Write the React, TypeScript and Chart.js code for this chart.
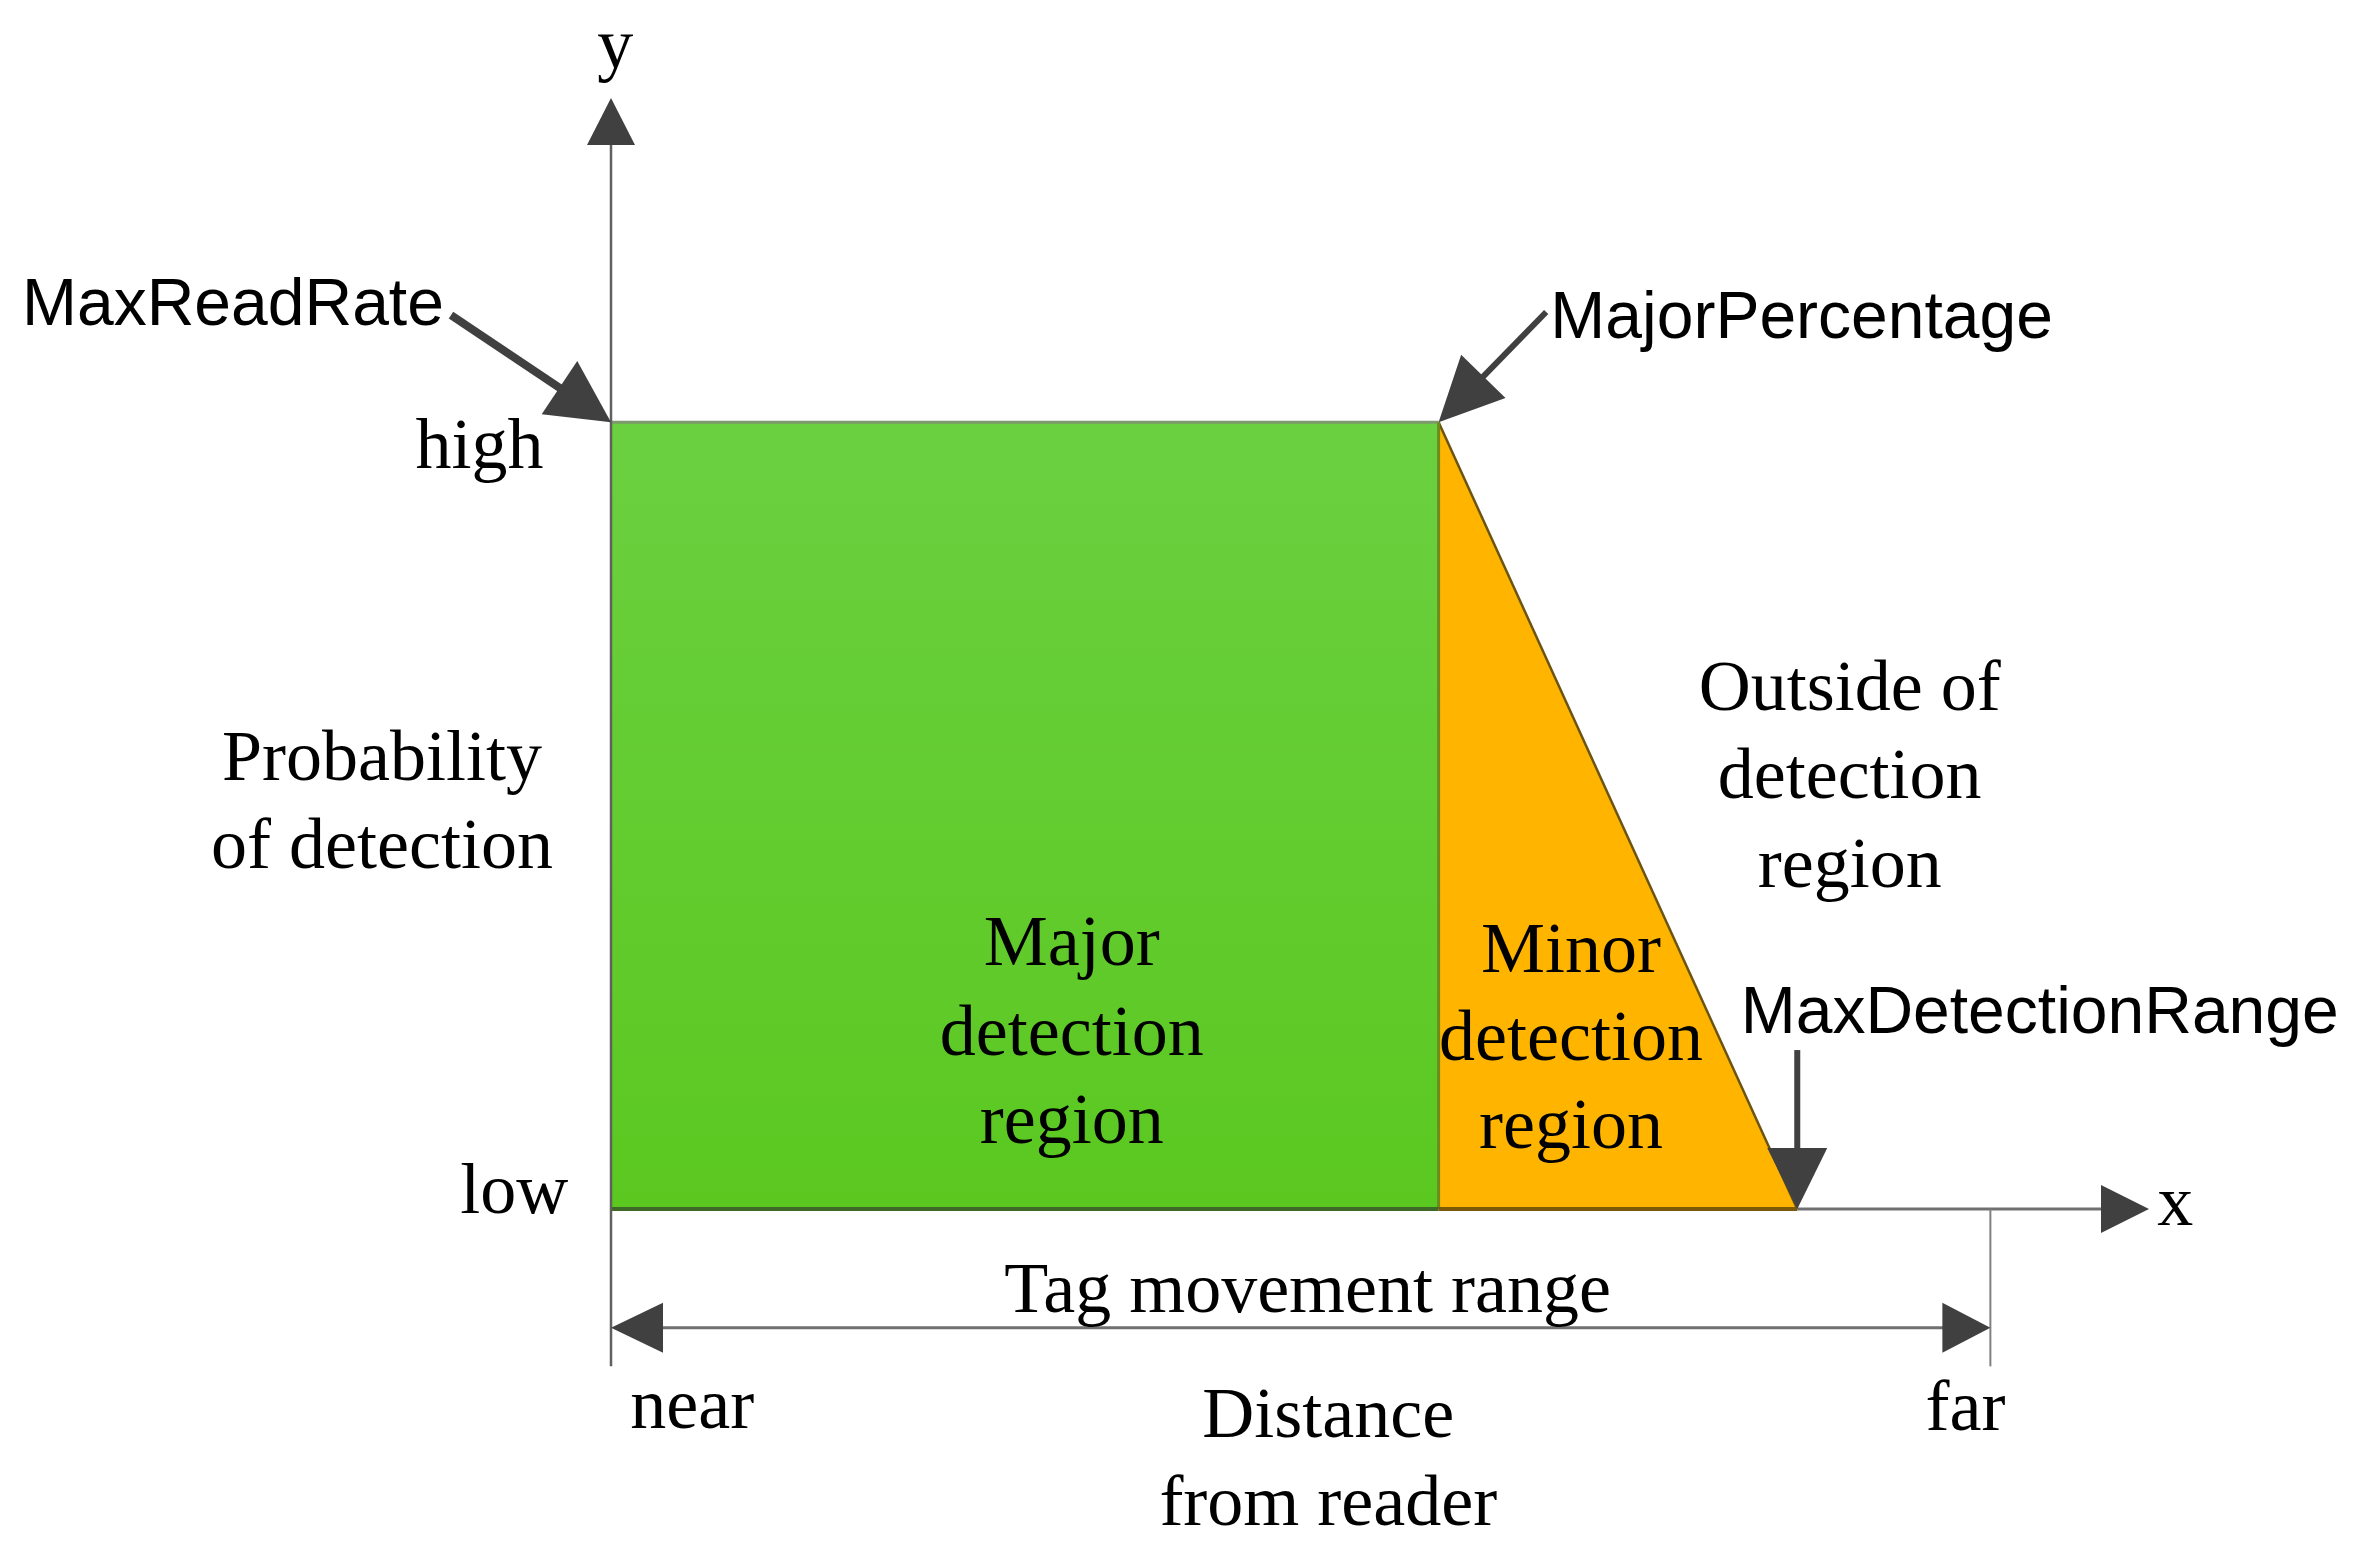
import React, { useEffect, useRef } from "react";
import { Chart, registerables } from "chart.js";

Chart.register(...registerables);

// ---- data (x: distance from reader, 0 = near, 1 = far; y: probability, 0 = low, 1 = high)
const majorX = [0, 0.6];
const majorY = [1, 1];
const minorX = [0.6, 0.86];
const minorY = [1, 0];
const yTickLabels = ["low", "high"];
const yTickValues = [0, 1];
const xTickLabels = ["near", "far"];
const xTickValues = [0, 1];
const majorLines = ["Major", "detection", "region"];
const minorLines = ["Minor", "detection", "region"];
const outsideLines = ["Outside of", "detection", "region"];
const yTitleLines = ["Probability", "of detection"];
const xTitleLines = ["Distance", "from reader"];
const rangeLabel = "Tag movement range";
const calloutLabels = ["MaxReadRate", "MajorPercentage", "MaxDetectionRange"];

const X_MAX = 1.115;
const Y_MAX = 1.412;
const EXT = -0.2; // tick extension below x axis

const SERIF = '72px "Liberation Serif", "Times New Roman", serif';
const SANS = '66px "Liberation Sans", Arial, sans-serif';
const ARROW = "#404040";
const AXIS = "#707070";

function arrow(ctx: CanvasRenderingContext2D, x1: number, y1: number, x2: number, y2: number, shaftW: number, headL: number, headHW: number, color: string, shaft = true) {
  const dx = x2 - x1, dy = y2 - y1;
  const len = Math.hypot(dx, dy);
  const ux = dx / len, uy = dy / len;
  const bx = x2 - ux * headL, by = y2 - uy * headL;
  ctx.save();
  if (shaft) {
    ctx.strokeStyle = color;
    ctx.lineWidth = shaftW;
    ctx.lineCap = "butt";
    ctx.beginPath();
    ctx.moveTo(x1, y1);
    ctx.lineTo(bx + ux * 2, by + uy * 2);
    ctx.stroke();
  }
  ctx.fillStyle = color;
  ctx.beginPath();
  ctx.moveTo(x2, y2);
  ctx.lineTo(bx - uy * headHW, by + ux * headHW);
  ctx.lineTo(bx + uy * headHW, by - ux * headHW);
  ctx.closePath();
  ctx.fill();
  ctx.restore();
}

function line(ctx: CanvasRenderingContext2D, x1: number, y1: number, x2: number, y2: number, w: number, color: string) {
  ctx.save();
  ctx.strokeStyle = color;
  ctx.lineWidth = w;
  ctx.beginPath();
  ctx.moveTo(x1, y1);
  ctx.lineTo(x2, y2);
  ctx.stroke();
  ctx.restore();
}

function text(ctx: CanvasRenderingContext2D, s: string, x: number, y: number, font: string, align: CanvasTextAlign) {
  ctx.save();
  ctx.font = font;
  ctx.fillStyle = "#000";
  ctx.textAlign = align;
  ctx.textBaseline = "alphabetic";
  ctx.fillText(s, x, y);
  ctx.restore();
}

const diagramPlugin = {
  id: "diagram",
  afterDatasetsDraw(chart: any) {
    const ctx: CanvasRenderingContext2D = chart.ctx;
    const xs = chart.scales.x, ys = chart.scales.y;
    const X = (v: number) => xs.getPixelForValue(v);
    const Y = (v: number) => ys.getPixelForValue(v);

    // region edges
    line(ctx, X(majorX[1]), Y(1), X(majorX[1]), Y(0), 3, "#6f8a1c");
    line(ctx, X(0), Y(0), X(majorX[1]), Y(0), 4, "#3e6a28");
    line(ctx, X(minorX[0]), Y(0), X(minorX[1]), Y(0), 4, "#7a5a08");

    // axes
    line(ctx, X(0), Y(EXT), X(0), Y(Y_MAX) + 40, 2.5, "#606060");
    arrow(ctx, X(0), Y(1.2), X(0), Y(Y_MAX), 2.5, 47, 24, ARROW, false);
    line(ctx, X(minorX[1]), Y(0), X(X_MAX) - 40, Y(0), 3, AXIS);
    arrow(ctx, X(1.0), Y(0), X(X_MAX), Y(0), 3, 48, 24, ARROW, false);
    line(ctx, X(xTickValues[1]), Y(0), X(xTickValues[1]), Y(EXT), 2, "#808080");

    // tag movement range double arrow
    const ry = Y(-0.151);
    line(ctx, X(0) + 40, ry, X(1) - 40, ry, 3, AXIS);
    arrow(ctx, X(0.5), ry, X(0), ry, 3, 52, 25, ARROW, false);
    arrow(ctx, X(0.5), ry, X(1), ry, 3, 48, 25, ARROW, false);

    // callout arrows
    arrow(ctx, X(-0.116), Y(1.136), X(0), Y(1), 8, 62, 32, ARROW);
    arrow(ctx, X(0.678), Y(1.14), X(majorX[1]), Y(1), 6, 64, 31, ARROW);
    arrow(ctx, X(minorX[1]), Y(0.202), X(minorX[1]), Y(0), 6, 61, 30, ARROW);

    // axis names
    text(ctx, "y", X(0.003), Y(1.45), SERIF, "center");
    text(ctx, "x", X(1.134), Y(-0.02), SERIF, "center");

    // tick labels
    text(ctx, yTickLabels[1], X(-0.049), Y(yTickValues[1] - 0.058), SERIF, "right");
    text(ctx, yTickLabels[0], X(-0.031), Y(yTickValues[0] - 0.005), SERIF, "right");
    text(ctx, xTickLabels[0], X(xTickValues[0] + 0.014), Y(-0.278), SERIF, "left");
    text(ctx, xTickLabels[1], X(xTickValues[1] - 0.047), Y(-0.281), SERIF, "left");

    // titles
    text(ctx, yTitleLines[0], X(-0.166), Y(0.545), SERIF, "center");
    text(ctx, yTitleLines[1], X(-0.166), Y(0.433), SERIF, "center");
    text(ctx, xTitleLines[0], X(0.52), Y(-0.29), SERIF, "center");
    text(ctx, xTitleLines[1], X(0.52), Y(-0.402), SERIF, "center");
    text(ctx, rangeLabel, X(0.505), Y(-0.131), SERIF, "center");

    // region labels
    const majorYs = [0.31, 0.196, 0.084];
    const minorYs = [0.301, 0.189, 0.078];
    const outsideYs = [0.634, 0.522, 0.409];
    majorLines.forEach((s, i) => text(ctx, s, X(0.334), Y(majorYs[i]), SERIF, "center"));
    minorLines.forEach((s, i) => text(ctx, s, X(0.696), Y(minorYs[i]), SERIF, "center"));
    outsideLines.forEach((s, i) => text(ctx, s, X(0.898), Y(outsideYs[i]), SERIF, "center"));

    // callout labels
    text(ctx, calloutLabels[0], X(-0.427), Y(1.123), SANS, "left");
    text(ctx, calloutLabels[1], X(0.681), Y(1.107), SANS, "left");
    text(ctx, calloutLabels[2], X(0.819), Y(0.224), SANS, "left");
  },
};

export default function App() {
  const ref = useRef<HTMLCanvasElement | null>(null);
  useEffect(() => {
    document.body.style.margin = "0";
    const canvas = ref.current;
    if (!canvas) return;
    const chart = new Chart(canvas, {
      type: "line",
      data: {
        datasets: [
          {
            label: "Major detection region",
            data: majorX.map((x, i) => ({ x, y: majorY[i] })),
            fill: "origin",
            backgroundColor: (c: any) => {
              const ch = c.chart;
              if (!ch.chartArea) return "#62cc2e";
              const y = ch.scales.y;
              const g = ch.ctx.createLinearGradient(0, y.getPixelForValue(1), 0, y.getPixelForValue(0));
              g.addColorStop(0, "#6bd040");
              g.addColorStop(1, "#5bc820");
              return g;
            },
            borderColor: "#7c9a6c",
            borderWidth: 3,
            pointRadius: 0,
            tension: 0,
            clip: false,
          } as any,
          {
            label: "Minor detection region",
            data: minorX.map((x, i) => ({ x, y: minorY[i] })),
            fill: "origin",
            backgroundColor: "#ffb500",
            borderColor: "#6b5410",
            borderWidth: 2.5,
            pointRadius: 0,
            tension: 0,
            clip: false,
          } as any,
        ],
      },
      options: {
        animation: false,
        responsive: false,
        maintainAspectRatio: false,
        layout: { padding: { left: 611, right: 229, top: 98, bottom: 359 } },
        plugins: { legend: { display: false }, tooltip: { enabled: false } },
        scales: {
          x: { type: "linear", min: 0, max: X_MAX, display: false },
          y: { type: "linear", min: 0, max: Y_MAX, display: false },
        },
      },
      plugins: [diagramPlugin],
    });
    return () => chart.destroy();
  }, []);
  return (
    <div style={{ width: 2378, height: 1568, background: "#fff" }}>
      <canvas ref={ref} width={2378} height={1568} style={{ display: "block" }} />
    </div>
  );
}
